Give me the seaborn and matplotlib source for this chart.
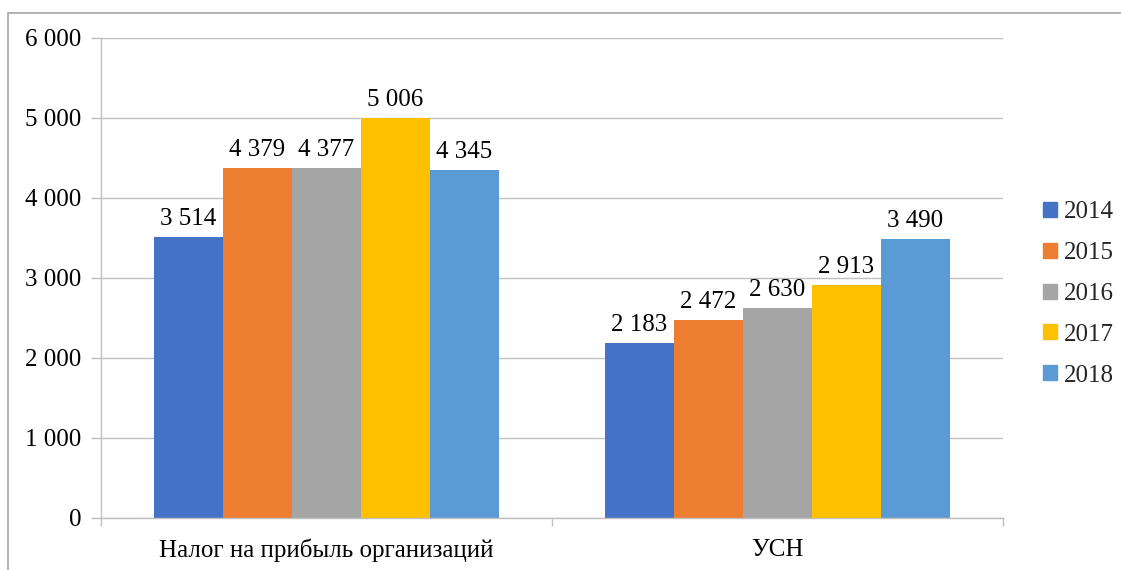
import matplotlib
matplotlib.use("Agg")
import matplotlib.pyplot as plt
import matplotlib.patches as mpatches
import seaborn as sns
import pandas as pd
from matplotlib.ticker import FuncFormatter, FixedLocator

categories = ["Налог на прибыль организаций", "УСН"]
years = ["2014", "2015", "2016", "2017", "2018"]
values_profit = [3514, 4379, 4377, 5006, 4345]
values_usn = [2183, 2472, 2630, 2913, 3490]
colors = ["#4472C4", "#ED7D31", "#A5A5A5", "#FFC000", "#5B9BD5"]

rows = []
for y, v in zip(years, values_profit):
    rows.append({"cat": categories[0], "year": y, "val": v})
for y, v in zip(years, values_usn):
    rows.append({"cat": categories[1], "year": y, "val": v})
df = pd.DataFrame(rows)

sns.set_theme(style="white")
plt.rcParams["font.family"] = ["Liberation Serif", "DejaVu Serif"]

FS = 18

fig = plt.figure(figsize=(11.21, 5.70), dpi=100)
ax = fig.add_axes([101/1121, 1 - 518/570, (1003-101)/1121, (518-38)/570])

sns.barplot(data=df, x="cat", y="val", hue="year", palette=colors,
            width=0.765, saturation=1, ax=ax, edgecolor="none", linewidth=0,
            errorbar=None)

fmt = lambda v: f"{int(v):,}".replace(",", " ")
for cont in ax.containers:
    ax.bar_label(cont, labels=[fmt(b.get_height()) for b in cont],
                 padding=5, fontsize=FS, color="#000000")

ax.set_ylim(0, 6000)
ax.set_xlim(-0.5, 1.5)
ax.set_yticks(range(0, 6001, 1000))
ax.yaxis.set_major_formatter(FuncFormatter(lambda v, p: fmt(v)))
ax.yaxis.grid(True, color="#BFBFBF", linewidth=1)
ax.set_axisbelow(True)
ax.set_xlabel("")
ax.set_ylabel("")

for s in ["top", "right"]:
    ax.spines[s].set_visible(False)
for s in ["left", "bottom"]:
    ax.spines[s].set_color("#BFBFBF")
    ax.spines[s].set_linewidth(1)

ax.tick_params(axis="y", which="major", length=7, color="#BFBFBF", width=1,
               labelsize=FS, pad=7, left=True)
ax.tick_params(axis="x", which="major", length=0, labelsize=FS, pad=15)
ax.xaxis.set_minor_locator(FixedLocator([-0.5, 0.5, 1.5]))
ax.tick_params(axis="x", which="minor", length=6, color="#BFBFBF", width=1, bottom=True)
for lbl in ax.get_xticklabels() + ax.get_yticklabels():
    lbl.set_color("#000000")

handles = [mpatches.Patch(color=c, label=y) for c, y in zip(colors, years)]
if ax.get_legend() is not None:
    ax.get_legend().remove()
fig.legend(handles=handles, loc="center left", bbox_to_anchor=(1043/1121, 1 - 294/570),
           frameon=False, fontsize=FS, handlelength=0.55, handleheight=0.55,
           handletextpad=0.3, labelspacing=0.75, borderpad=0, borderaxespad=0)

border = mpatches.Rectangle((8/1121, -0.1), 1.2, 1 - 13/570 + 0.1,
                            transform=fig.transFigure, fill=False,
                            edgecolor="#A6A6A6", linewidth=1.2)
fig.patches.append(border)

fig.savefig("out.png", dpi=100)
